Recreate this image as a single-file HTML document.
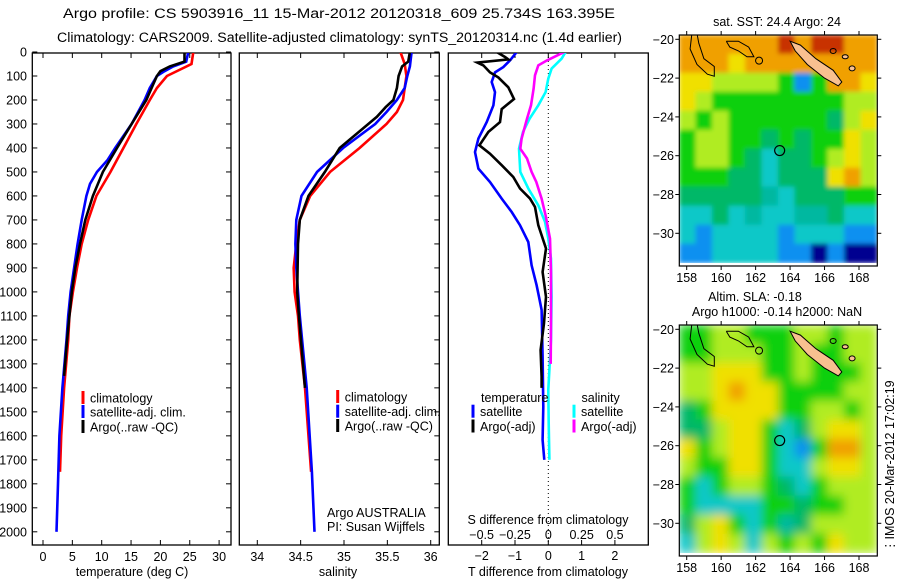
<!DOCTYPE html>
<html><head><meta charset="utf-8">
<style>
html,body{margin:0;padding:0;background:#fff;}
svg{display:block;font-family:"Liberation Sans",sans-serif;}
text{fill:#000;}
</style></head>
<body>
<svg id="fig" width="900" height="580" viewBox="0 0 900 580" xmlns="http://www.w3.org/2000/svg">
<defs>
  <clipPath id="clipP1"><rect x="32.3" y="53" width="198.7" height="492"/></clipPath>
  <clipPath id="clipP2"><rect x="239.3" y="53" width="200" height="492"/></clipPath>
  <clipPath id="clipP3"><rect x="448.3" y="53" width="200" height="492"/></clipPath>
  <clipPath id="clipM1"><rect x="679.3" y="35" width="198" height="228"/></clipPath>
  <clipPath id="clipM2"><rect x="679.3" y="325" width="198" height="228"/></clipPath>
  <filter id="blur" x="-5%" y="-5%" width="110%" height="110%"><feGaussianBlur stdDeviation="5" edgeMode="duplicate"/></filter>
  <filter id="blur2" x="-5%" y="-5%" width="110%" height="110%"><feGaussianBlur stdDeviation="2.5" edgeMode="duplicate"/></filter>
</defs>
<text x="63" y="18" font-size="13.5" textLength="552" lengthAdjust="spacingAndGlyphs">Argo profile: CS 5903916_11 15-Mar-2012 20120318_609 25.734S 163.395E</text>
<text x="57" y="42" font-size="13.5" textLength="565" lengthAdjust="spacingAndGlyphs">Climatology: CARS2009. Satellite-adjusted climatology: synTS_20120314.nc (1.4d earlier)</text>
<g id="p1"></g>
<g id="p2"></g>
<g id="p3"></g>
<g id="m1"></g>
<g id="m2"></g>
<text transform="translate(894,552) rotate(-90)" font-size="12.5">&#8942;IMOS 20-Mar-2012 17:02:19</text>
</svg>
<script>
// ---- temperature profile data ----
const tClimDepth = [0,50,100,150,200,300,400,500,600,700,800,900,1000,1100,1200,1400,1600,1750];
const tClim = [25.6,25.3,21.1,19.4,18.2,15.9,13.7,11.5,9.1,7.7,6.6,5.8,5.1,4.5,4.3,3.6,3.1,2.9];
const tSatDepth = [0,40,60,80,100,150,200,300,400,450,500,550,600,700,800,900,1000,1100,1200,1400,1600,1800,2000];
const tSat = [24.75,24.4,22.2,20.7,19.4,18.2,17.3,15.1,12.3,11.0,9.2,8.0,7.4,6.6,5.9,5.3,4.7,4.3,4.0,3.3,2.8,2.55,2.3];
const tArgoDepth = [0,40,60,80,100,150,200,300,400,500,600,700,800,900,1000,1100,1200,1350];
const tArgo = [24.1,24.1,21.6,20.0,19.4,18.5,17.6,15.1,12.6,10.2,8.5,7.2,6.3,5.5,4.9,4.5,4.1,3.6];
// ---- salinity profile data ----
const sClimDepth = [0,50,100,200,250,300,400,500,600,700,800,900,1000,1100,1200,1400,1750];
const sClim = [35.65,35.70,35.72,35.68,35.61,35.49,35.18,34.84,34.61,34.49,34.45,34.42,34.43,34.47,34.49,34.55,34.62];
const sSatDepth = [0,60,100,150,200,250,300,400,500,600,700,800,900,1000,1100,1400,1750,2000];
const sSat = [35.78,35.76,35.73,35.70,35.61,35.49,35.36,34.99,34.69,34.51,34.45,34.44,34.45,34.47,34.49,34.57,34.63,34.66];
const sArgoDepth = [0,40,60,100,150,200,230,270,300,400,500,600,700,800,1000,1100,1400];
const sArgo = [35.76,35.74,35.67,35.63,35.61,35.57,35.48,35.38,35.28,34.95,34.78,34.59,34.49,34.47,34.46,34.48,34.55];
// ---- difference data ----
const dTSatDepth = [0,35,63,85,125,167,222,292,361,417,486,542,611,667,722,792,889,972,1021,1075,1269,1478,1617,1700];
const dTSat = [-0.95,-1.15,-1.35,-1.6,-1.7,-1.6,-1.65,-1.85,-2.1,-2.2,-2.1,-1.75,-1.4,-1.1,-0.85,-0.6,-0.5,-0.35,-0.28,-0.2,-0.17,-0.15,-0.17,-0.12];
const dTArgoDepth = [0,21,31,44,56,85,106,147,196,238,292,333,389,424,472,521,569,611,646,722,819,917,1021,1075,1131,1242,1353,1400];
const dTArgo = [-1.55,-1.3,-1.2,-2.13,-1.95,-1.75,-1.5,-1.2,-1.03,-1.4,-1.45,-1.8,-2.07,-1.75,-1.4,-1.05,-0.85,-0.55,-0.4,-0.3,-0.07,-0.17,-0.07,-0.1,-0.13,-0.23,-0.2,-0.2];
const dSSatDepth = [0,28,69,111,167,222,278,333,403,500,569,639,708,778,861,1021,1200,1408,1547,1700];
const dSSat = [0.13,0.1,0.025,0,-0.02,-0.075,-0.14,-0.19,-0.22,-0.21,-0.15,-0.075,-0.025,0,0.02,0.025,0.02,0,0.003,0.008];
const dSArgoDepth = [0,35,56,97,153,222,278,361,403,444,500,542,611,681,778,917,1131,1300];
const dSArgo = [0.12,-0.01,-0.075,-0.1,-0.11,-0.13,-0.16,-0.2,-0.21,-0.16,-0.125,-0.09,-0.05,-0.02,0.0125,0.02,0.02,0.018];
// ---- tick labels ----
const depthTicks = [0,100,200,300,400,500,600,700,800,900,1000,1100,1200,1300,1400,1500,1600,1700,1800,1900,2000];
const tTicks = [0,5,10,15,20,25,30];
const sTicks = [34,34.5,35,35.5,36];
const dTTicks = [-2,-1,0,1,2];
const dSTicks = [-0.5,-0.25,0,0.25,0.5];
const lonTicks = [158,160,162,164,166,168];
const latTicks = [-20,-22,-24,-26,-28,-30];
// ---- map images (coarse cells) ----
const sstRows = [
"OOOOOORORROO","OOOYOOOOOOOO","YYLLLLGBGOOY","YLGGGGGGGGLL","LGLGGGGGGgLY","GLLGGgGgGGYL",
"GLLGgCggGLYL","GGGggCgggYOL","gggggcCgggGG","CCgCcCCccgCC","CBCCCCBCCCBB","BBCCCCBBDBDD"];
const slaRows = [
"GGLLGGGLLGLL","GGLLLGGLGGLL","LLYYYGGLGGGL","LLYOYYGGGGLL","gGYYYYGGLLGL","ggLYYGCgLYYL",
"YGLYYGCBGOOL","LGGYYGCCLYYL","GCGLLGgCGLLL","GCCCCGGgGGLL","gLYGCGcgLLLL","CLYLCLGLGYLL"];

const NS='http://www.w3.org/2000/svg';
function mk(parent,tag,attrs,txt){const e=document.createElementNS(NS,tag);for(const k in attrs)e.setAttribute(k,attrs[k]);if(txt!==undefined)e.textContent=txt;parent.appendChild(e);return e;}
const yD = d => 52 + d*0.2399;
const xT = t => 43 + t*5.87;
const xS = s => 257.3 + (s-34)*86.7;
const xDT = t => 548.3 + t*33.3;
const xDS = s => 548.3 + s*133.3;
const Y0=53, Y1=545;

function frame(g,x0,x1,name){
  const r=mk(g,'rect',{x:x0,y:Y0,width:x1-x0,height:Y1-Y0,fill:'none',stroke:'#000','stroke-width':1.3});
  
  
}
function line(g,depths,vals,fx,color,name,clip){
  const pts=depths.map((d,i)=>fx(vals[i]).toFixed(1)+','+yD(d).toFixed(1)).join(' ');
  const p=mk(g,'polyline',{points:pts,fill:'none',stroke:color,'stroke-width':2.6,'stroke-linejoin':'miter','clip-path':'url(#'+clip+')'});
  
  
}
function depthTickMarks(g,x,dir){
  depthTicks.forEach(d=>{mk(g,'line',{x1:x,x2:x+dir*5,y1:yD(d),y2:yD(d),stroke:'#000','stroke-width':1});});
}
function xTickMarks(g,ticks,fx){
  ticks.forEach(v=>{const x=fx(v);
    mk(g,'line',{x1:x,x2:x,y1:Y0,y2:Y0+5,stroke:'#000','stroke-width':1});
    mk(g,'line',{x1:x,x2:x,y1:Y1,y2:Y1-5,stroke:'#000','stroke-width':1});});
}
function legend(g,x,y,color,label,name){
  const m=mk(g,'rect',{x:x-1.5,y:y-7,width:3,height:13,fill:color});
  
  
  const t=mk(g,'text',{x:x+7,y:y+4.5,'font-size':12.5},label);
  
  
}

// Panel 1
const p1=document.getElementById('p1');
frame(p1,32.3,231,'temperature-axes-frame');
depthTickMarks(p1,32.3,1); depthTickMarks(p1,231,-1);
xTickMarks(p1,tTicks,xT);
depthTicks.forEach(d=>{const t=mk(p1,'text',{x:27,y:yD(d)+4.5,'font-size':12.5,'text-anchor':'end'},String(d));
  
  });
tTicks.forEach(v=>{const t=mk(p1,'text',{x:xT(v),y:561,'font-size':12.5,'text-anchor':'middle'},String(v));
  
  });
mk(p1,'text',{x:132,y:576,'font-size':12.5,'text-anchor':'middle'},'temperature (deg C)');
line(p1,tClimDepth,tClim,xT,'#ff0000','temperature-climatology-line','clipP1');
line(p1,tSatDepth,tSat,xT,'#0000ff','temperature-satellite-line','clipP1');
line(p1,tArgoDepth,tArgo,xT,'#000000','temperature-argo-line','clipP1');
legend(p1,83,398,'#ff0000','climatology','temp-legend-climatology');
legend(p1,83,412,'#0000ff','satellite-adj. clim.','temp-legend-satellite');
legend(p1,83,427,'#000000','Argo(..raw -QC)','temp-legend-argo');

// Panel 2
const p2=document.getElementById('p2');
frame(p2,239.3,439.3,'salinity-axes-frame');
depthTickMarks(p2,439.3,-1);
xTickMarks(p2,sTicks,xS);
sTicks.forEach(v=>{const t=mk(p2,'text',{x:xS(v),y:561,'font-size':12.5,'text-anchor':'middle'},String(v));
  
  });
mk(p2,'text',{x:338,y:576,'font-size':12.5,'text-anchor':'middle'},'salinity');
line(p2,sClimDepth,sClim,xS,'#ff0000','salinity-climatology-line','clipP2');
line(p2,sSatDepth,sSat,xS,'#0000ff','salinity-satellite-line','clipP2');
line(p2,sArgoDepth,sArgo,xS,'#000000','salinity-argo-line','clipP2');
legend(p2,337.7,397,'#ff0000','climatology','sal-legend-climatology');
legend(p2,337.7,411.7,'#0000ff','satellite-adj. clim.','sal-legend-satellite');
legend(p2,337.7,426,'#000000','Argo(..raw -QC)','sal-legend-argo');
mk(p2,'text',{x:327,y:517,'font-size':12.5},'Argo AUSTRALIA');
mk(p2,'text',{x:327,y:531,'font-size':12.5},'PI: Susan Wijffels');

// Panel 3
const p3=document.getElementById('p3');
frame(p3,448.3,648.3,'difference-axes-frame');
xTickMarks(p3,dTTicks,xDT);
mk(p3,'line',{x1:548.3,x2:548.3,y1:Y0,y2:Y1,stroke:'#000','stroke-width':1,'stroke-dasharray':'1,3'});
line(p3,dTSatDepth,dTSat,xDT,'#0000ff','tdiff-satellite-line','clipP3');
line(p3,dTArgoDepth,dTArgo,xDT,'#000000','tdiff-argo-line','clipP3');
line(p3,dSSatDepth,dSSat,xDS,'#00ffff','sdiff-satellite-line','clipP3');
line(p3,dSArgoDepth,dSArgo,xDS,'#ff00ff','sdiff-argo-line','clipP3');
mk(p3,'text',{x:481,y:402,'font-size':12.5},'temperature');
legend(p3,473,411.7,'#0000ff','satellite','diff-legend-t-satellite');
legend(p3,473,426.5,'#000000','Argo(-adj)','diff-legend-t-argo');
mk(p3,'text',{x:581.5,y:402,'font-size':12.5},'salinity');
legend(p3,574,411.7,'#00ffff','satellite','diff-legend-s-satellite');
legend(p3,574,426.5,'#ff00ff','Argo(-adj)','diff-legend-s-argo');
mk(p3,'text',{x:548,y:524,'font-size':12.5,'text-anchor':'middle'},'S difference from climatology');
dSTicks.forEach(v=>{const t=mk(p3,'text',{x:xDS(v),y:539,'font-size':12.5,'text-anchor':'middle'},String(v).replace('-','\u2212'));
  
  });
dTTicks.forEach(v=>{const t=mk(p3,'text',{x:xDT(v),y:560,'font-size':12.5,'text-anchor':'middle'},String(v).replace('-','\u2212'));
  
  });
mk(p3,'text',{x:548,y:576,'font-size':12.5,'text-anchor':'middle'},'T difference from climatology');

// Maps
const pal={O:'#f0a000',R:'#c83000',Y:'#f0e000',L:'#b0ec20',G:'#10d010',g:'#00b868',C:'#10c8c8',c:'#00b8a0',B:'#1090f0',D:'#000090'};
function map(gid,top,rows,blurId,clip,title1,title2){
  const g=document.getElementById(gid);
  const x0=679.3,x1=877.3,bot=top+228;
  const lonX=l=>686.7+(l-158)*17.23;
  const latY=la=>top+4.3+(-20-la)*19.4;
  const img=mk(g,'g',{'clip-path':'url(#'+clip+')'});
  
  const inner=mk(img,'g',{filter:'url(#'+blurId+')'});
  const nr=rows.length,nc=rows[0].length;
  const cw=(x1-x0)/nc, ch=(bot-top)/nr;
  rows.forEach((r,i)=>{for(let j=0;j<nc;j++){mk(inner,'rect',{x:x0+j*cw-0.3,y:top+i*ch-0.3,width:cw+0.6,height:ch+0.6,fill:pal[r[j]]||'#10d010'});}});
  const P=a=>a.map(p=>lonX(p[0]).toFixed(1)+','+latY(p[1]).toFixed(1)).join(' ');
  mk(img,'polyline',{points:P([[158.3,-19.7],[158.2,-20.5],[158.6,-21.3],[159.2,-21.8],[159.6,-21.9],[159.6,-21.4],[159.0,-21.0],[158.7,-20.2],[158.6,-19.7]]),fill:'none',stroke:'#000','stroke-width':1});
  mk(img,'polyline',{points:P([[160.3,-20.1],[161.0,-20.1],[161.6,-20.4],[161.9,-20.9],[161.5,-20.9],[161.0,-20.6],[160.5,-20.4],[160.3,-20.1]]),fill:'none',stroke:'#000','stroke-width':1});
  mk(img,'circle',{cx:lonX(162.2),cy:latY(-21.1),r:3.5,fill:'none',stroke:'#000','stroke-width':1});
  const nc1=mk(img,'polygon',{points:P([[164.0,-20.1],[164.6,-20.3],[165.5,-21.0],[166.5,-21.6],[167.0,-22.2],[166.8,-22.4],[166.0,-22.0],[165.0,-21.3],[164.3,-20.6]]),fill:'#f8c090',stroke:'#000','stroke-width':1});
  
  mk(img,'ellipse',{cx:lonX(166.5),cy:latY(-20.6),rx:3,ry:2.5,fill:'none',stroke:'#000','stroke-width':1});
  mk(img,'ellipse',{cx:lonX(167.2),cy:latY(-20.9),rx:3,ry:2,fill:'#f8c090',stroke:'#000','stroke-width':1});
  mk(img,'ellipse',{cx:lonX(167.6),cy:latY(-21.5),rx:3,ry:2.5,fill:'#f8c090',stroke:'#000','stroke-width':1});
  const pos=mk(img,'circle',{cx:lonX(163.395),cy:latY(-25.734),r:5,fill:'none',stroke:'#000','stroke-width':1.2});
  
  
  const fr=mk(g,'rect',{x:x0,y:top,width:x1-x0,height:bot-top+3,fill:'none',stroke:'#000','stroke-width':1.2});
  
  lonTicks.forEach(l=>{const x=lonX(l);
    mk(g,'line',{x1:x,x2:x,y1:top,y2:top-4,stroke:'#000'});
    mk(g,'line',{x1:x,x2:x,y1:bot+3,y2:bot+7,stroke:'#000'});
    const t=mk(g,'text',{x:x,y:bot+19,'font-size':12.5,'text-anchor':'middle'},String(l));
    
    });
  latTicks.forEach(la=>{const y=latY(la);
    mk(g,'line',{x1:x0,x2:x0-4,y1:y,y2:y,stroke:'#000'});
    mk(g,'line',{x1:x1,x2:x1+4,y1:y,y2:y,stroke:'#000'});
    const t=mk(g,'text',{x:674,y:y+4.5,'font-size':12.5,'text-anchor':'end'},'\u2212'+String(-la));
    
    });
  if(title2){
    mk(g,'text',{x:755,y:301,'font-size':12.5,'text-anchor':'middle'},title1);
    mk(g,'text',{x:777,y:316,'font-size':12.5,'text-anchor':'middle'},title2);
  } else {
    mk(g,'text',{x:777,y:26,'font-size':12.5,'text-anchor':'middle'},title1);
  }
}
map('m1',35,sstRows,'blur2','clipM1','sat. SST: 24.4 Argo: 24');
map('m2',325,slaRows,'blur','clipM2','Altim. SLA: -0.18','Argo h1000: -0.14 h2000: NaN');
</script>
</body></html>
